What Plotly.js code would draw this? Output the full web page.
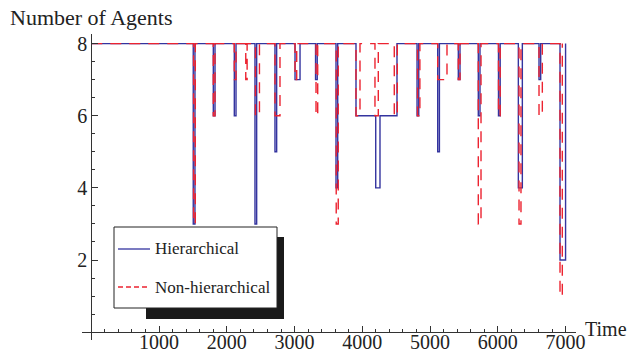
<!DOCTYPE html>
<html>
<head>
<meta charset="utf-8">
<script src="https://cdn.plot.ly/plotly-3.0.1.min.js"></script>
<style>html,body{margin:0;padding:0;background:#fff;}#chart{width:627px;height:352px;}</style>
</head>
<body>
<div id="chart"></div>
<script>
// ---- data (step change points) ----
const seriesNames = ["Hierarchical", "Non-hierarchical"];
const hierT = [0, 1505, 1530, 1801, 1826, 2111, 2136, 2416, 2441, 2711, 2736, 3007, 3081, 3310, 3335, 3612, 3637,
  3907, 4198, 4261, 4512, 4808, 4833, 5113, 5138, 5417, 5442, 5712, 5737, 6010, 6035, 6303, 6362, 6608, 6633, 6918, 7000];
const hierV = [8, 3, 8, 6, 8, 6, 8, 3, 8, 5, 8, 7, 8, 7, 8, 4, 8,
  6, 4, 6, 8, 6, 8, 5, 8, 7, 8, 6, 8, 6, 8, 4, 8, 7, 8, 2, 8];
const nonHierT = [0, 1510, 1535, 1801, 1826, 2111, 2136, 2280, 2300, 2423, 2482, 2711, 2785, 3007, 3032, 3317, 3342,
  3615, 3645, 3907, 3966, 4187, 4236, 4472, 4517, 4815, 4850, 5113, 5250, 5417, 5442, 5712, 5752, 6010, 6035,
  6313, 6342, 6608, 6657, 6918, 6952];
const nonHierV = [8, 3, 8, 6, 8, 7, 8, 7, 8, 6, 8, 6, 8, 7, 8, 6, 8,
  3, 8, 6, 8, 6, 8, 6, 8, 6, 8, 7, 8, 7, 8, 3, 8, 6, 8,
  3, 8, 6, 8, 1, 8];
const xTickVals = [1000, 2000, 3000, 4000, 5000, 6000, 7000];
const yTickVals = [2, 4, 6, 8];
const xTitle = "Time";
const yTitle = "Number of Agents";

// ---- layout geometry ----
const W = 627, H = 352;
const M = {l: 82, r: 51, t: 34, b: 12};
const PW = W - M.l - M.r, PH = H - M.t - M.b;
const xRange = [-137, 7154];
const yRange = [-0.218, 8.266];
const px = x => (x - M.l) / PW;          // pixel -> paper x
const py = y => (H - M.b - y) / PH;      // pixel -> paper y

const blue = "#34349f";
const red = "#ec2330";
const serif = "Liberation Serif, Times New Roman, serif";

const traces = [
  {x: hierT, y: hierV, name: seriesNames[0], type: "scatter", mode: "lines",
   line: {shape: "hv", color: blue, width: 1.4}, hoverinfo: "skip"},
  {x: nonHierT, y: nonHierV, name: seriesNames[1], type: "scatter", mode: "lines",
   line: {shape: "hv", color: red, width: 1.4, dash: "11px,8px"}, hoverinfo: "skip"}
];

const axisCommon = {
  showgrid: false, zeroline: false, showline: true, linecolor: "#333", linewidth: 1,
  ticks: "inside", ticklen: 6, tickwidth: 1, tickcolor: "#333",
  tickfont: {family: serif, size: 20, color: "#222"},
  tickmode: "array", anchor: "free", fixedrange: true
};

const layout = {
  width: W, height: H,
  margin: M,
  paper_bgcolor: "#fff", plot_bgcolor: "#fff",
  showlegend: false,
  xaxis: Object.assign({}, axisCommon, {
    range: xRange, tickvals: xTickVals, ticktext: xTickVals.map(String),
    position: (0 - yRange[0]) / (yRange[1] - yRange[0]),
    ticklabelstandoff: -8,
    minor: {dtick: 200, tick0: 0, ticklen: 3, ticks: "inside", tickcolor: "#333"}
  }),
  yaxis: Object.assign({}, axisCommon, {
    range: yRange, tickvals: yTickVals, ticktext: yTickVals.map(String),
    position: (0 - xRange[0]) / (xRange[1] - xRange[0]),
    minor: {dtick: 0.5, tick0: 0, ticklen: 3, ticks: "inside", tickcolor: "#333"}
  }),
  shapes: [
    // legend shadow
    {type: "rect", xref: "paper", yref: "paper", x0: px(146), x1: px(284), y0: py(319), y1: py(237),
     fillcolor: "#1a1a1a", line: {width: 0}, layer: "above"},
    // legend box
    {type: "rect", xref: "paper", yref: "paper", x0: px(114), x1: px(277), y0: py(308), y1: py(227),
     fillcolor: "#fff", line: {color: "#222", width: 1}, layer: "above"},
    // legend samples
    {type: "line", xref: "paper", yref: "paper", x0: px(118), x1: px(150), y0: py(249), y1: py(249),
     line: {color: blue, width: 1.3}, layer: "above"},
    {type: "line", xref: "paper", yref: "paper", x0: px(118), x1: px(150), y0: py(287), y1: py(287),
     line: {color: red, width: 1.3, dash: "5px,3px"}, layer: "above"}
  ],
  annotations: [
    {text: yTitle, xref: "paper", yref: "paper", x: px(8), y: py(18), xanchor: "left", yanchor: "middle",
     showarrow: false, font: {family: serif, size: 22, color: "#222"}},
    {text: xTitle, xref: "paper", yref: "paper", x: px(583), y: py(329), xanchor: "left", yanchor: "middle",
     showarrow: false, font: {family: serif, size: 20, color: "#222"}},
    {text: seriesNames[0], xref: "paper", yref: "paper", x: px(153), y: py(249), xanchor: "left", yanchor: "middle",
     showarrow: false, font: {family: serif, size: 17, color: "#222"}},
    {text: seriesNames[1], xref: "paper", yref: "paper", x: px(153), y: py(287), xanchor: "left", yanchor: "middle",
     showarrow: false, font: {family: serif, size: 17, color: "#222"}}
  ]
};

Plotly.newPlot("chart", traces, layout, {staticPlot: true, displayModeBar: false});
</script>
</body>
</html>
